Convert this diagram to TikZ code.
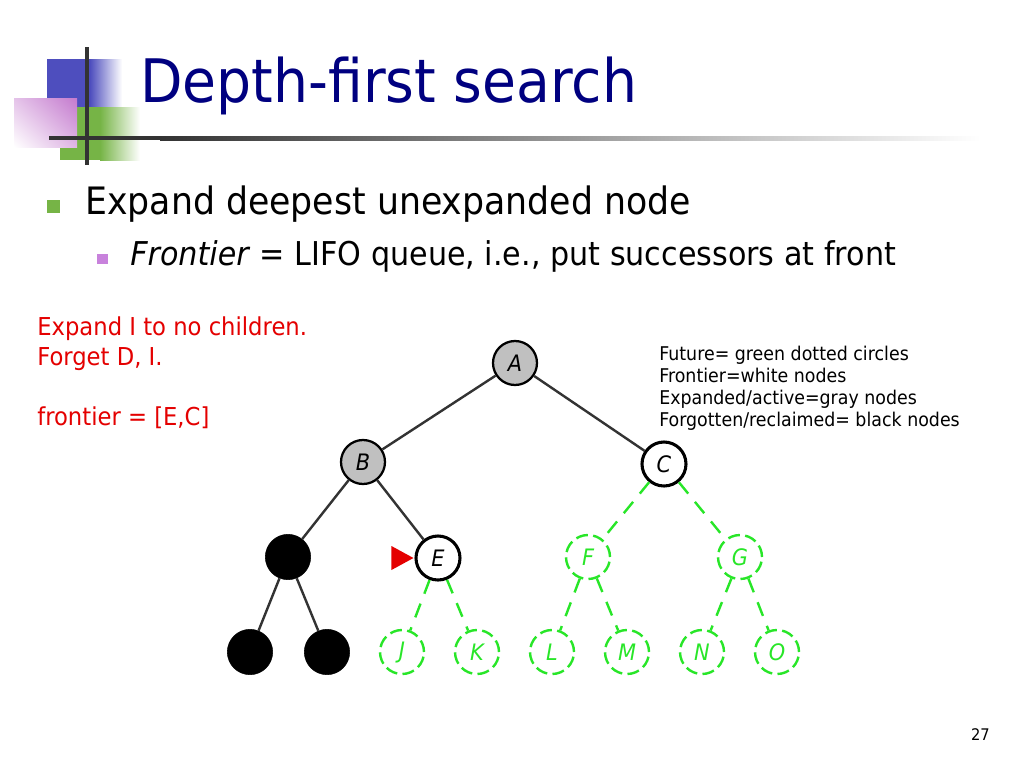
\documentclass[tikz,border=0pt]{standalone}
\usepackage{fontspec}
\setmainfont[FakeStretch=0.92]{DejaVu Sans}
\usetikzlibrary{calc,shadings}
\definecolor{titleblue}{RGB}{0,0,128}
\definecolor{notered}{RGB}{228,0,0}
\definecolor{futuregreen}{RGB}{40,230,40}
\definecolor{logoblue}{RGB}{78,78,190}
\definecolor{logogreen}{RGB}{118,180,70}
\definecolor{logopink}{RGB}{196,122,206}
\definecolor{subpurple}{RGB}{200,130,220}
\definecolor{nodegray}{RGB}{192,192,192}

\tikzset{
  tnode/.style={circle,minimum size=33pt,inner sep=0pt,font=\fontsize{17}{17}\selectfont\itshape},
  expanded/.style={tnode,draw=black,fill=nodegray,line width=1.7pt},
  frontier/.style={tnode,draw=black,fill=white,line width=2.3pt},
  forgotten/.style={tnode,draw=black,fill=black,minimum size=34pt},
  future/.style={tnode,draw=futuregreen,text=futuregreen,line width=1.8pt,dash pattern=on 9pt off 4pt},
  tedge/.style={line width=1.8pt,draw=black!80},
  fedge/.style={line width=1.8pt,draw=futuregreen,dash pattern=on 11pt off 8pt},
  rednote/.style={anchor=base west,inner sep=0pt,text=notered,font=\fontsize{18.5}{18.5}\selectfont},
  legendtext/.style={anchor=base west,inner sep=0pt,font=\fontsize{14.2}{14.2}\selectfont},
}

\begin{document}
\begin{tikzpicture}[x=0.75pt,y=-0.75pt]
\useasboundingbox[fill=white] (0,0) rectangle (1024,768);

\fill[logoblue] (47,59) rectangle (90,107);
\shade[left color=logoblue,right color=white] (90,59) rectangle (122,107);
\fill[logogreen] (60,107) rectangle (100,160);
\shade[left color=logogreen,right color=white] (100,107) rectangle (140,160);
\shade[upper right=logopink,lower left=white,upper left=logopink!45,lower right=logopink!55] (14,98) rectangle (77,147);
\draw[line width=2.3pt,black!80] (87,47) -- (87,165);
\fill[black!80] (49,136) rectangle (160,140);
\shade[left color=black!80,right color=white] (160,136) rectangle (980,140);

\node[anchor=base west,inner sep=0pt,text=titleblue,font=\fontsize{45}{45}\selectfont] (title) at (140,102) {Depth-first search};

\fill[logogreen] (47,200) rectangle (60,213);
\node[anchor=base west,inner sep=0pt,font=\fontsize{28.3}{28.3}\selectfont] (bullet) at (85,214) {Expand deepest unexpanded node};
\fill[subpurple] (97,254) rectangle (108,264);
\node[anchor=base west,inner sep=0pt,font=\fontsize{24.6}{24.6}\selectfont] (subbullet) at (130,265) {\textit{Frontier} = LIFO queue, i.e., put successors at front};

\node[rednote] (note1) at (37,335) {Expand I to no children.};
\node[rednote] (note2) at (37,365) {Forget D, I.};
\node[rednote] (note3) at (37,425) {frontier = [E,C]};

\foreach \txt [count=\i] in {Future= green dotted circles,Frontier=white nodes,Expanded/active=gray nodes,Forgotten/reclaimed= black nodes}
  \node[legendtext] (leg\i) at (659,338+22*\i) {\txt};

\node[expanded] (A) at (515,363) {A};
\node[expanded] (B) at (363,462) {B};
\node[frontier] (C) at (664,464) {C};
\node[forgotten] (D) at (288,557) {};
\node[frontier] (E) at (438,558) {E};
\node[future] (F) at (588,557) {F};
\node[future] (G) at (740,557) {G};
\node[forgotten] (H) at (250,652) {};
\node[forgotten] (I) at (327,652) {};
\node[future] (J) at (402,652) {J};
\node[future] (K) at (477,652) {K};
\node[future] (L) at (552,652) {L};
\node[future] (M) at (627,652) {M};
\node[future] (N) at (702,652) {N};
\node[future] (O) at (777,652) {O};

\draw[tedge] (A) -- (B);
\draw[tedge] (A) -- (C);
\draw[tedge] (B) -- (D);
\draw[tedge] (B) -- (E);
\draw[tedge] (D) -- (H);
\draw[tedge] (D) -- (I);
\foreach \p/\c in {E/J,E/K,C/F,C/G,F/L,F/M,G/N,G/O}
  \draw[fedge] (\p) -- (\c);

\fill[notered] ($(E.west)+(-1,0)$) -- ++(-22,-12) -- ++(0,24) -- cycle;

\node[anchor=base east,inner sep=0pt,font=\fontsize{12}{12}\selectfont] (pagenum) at (990,740) {27};
\end{tikzpicture}
\end{document}
